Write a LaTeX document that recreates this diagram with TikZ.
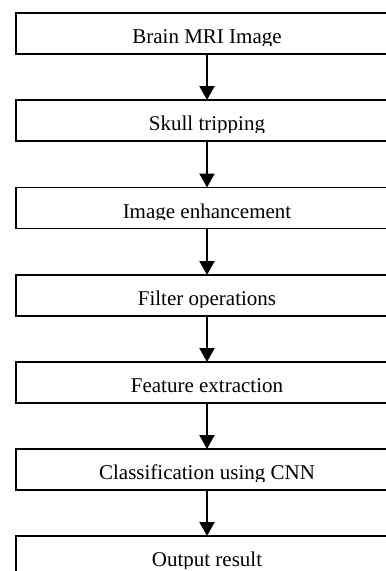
\documentclass[tikz,border=0pt]{standalone}
\usepackage{fontspec}
\setmainfont{Liberation Serif}
\usetikzlibrary{arrows.meta}

\begin{document}
\begin{tikzpicture}[x=1pt,y=-1pt,
  stagebox/.style={draw=black, line width=1.3pt, minimum width=382pt,
    minimum height=41pt, inner sep=0pt, outer sep=0pt},
  stagetext/.style={anchor=base, inner sep=0pt,
    font=\fontsize{21}{25}\selectfont},
  flow/.style={line width=2.2pt, -{Triangle[width=15pt,length=14pt]}}]

  % page frame; the boxes run past the right and bottom edges
  \clip (0,0) rectangle (386,571);
  \fill[white] (0,0) rectangle (386,571);

  % stage boxes (top edges about 87pt apart)
  \foreach \i/\top in {1/13,2/100,3/187.5,4/275,5/362,6/449,7/536}{
    \node[stagebox] (b\i) at (207,\top+20.5) {};
  }

  % labels, cut just below the baseline
  \foreach \i/\top/\txt in {1/13/Brain MRI Image,
                            2/100/Skull tripping,
                            3/187.5/Image enhancement,
                            4/275/Filter operations,
                            5/362/Feature extraction,
                            6/449/Classification using CNN,
                            7/536/Output result}{
    \begin{scope}
      \clip (17,\top) rectangle (397,\top+32);
      \node[stagetext] (t\i) at (207,\top+30.5) {\txt};
    \end{scope}
  }

  % connectors
  \foreach \i [evaluate=\i as \j using int(\i+1)] in {1,...,6}{
    \draw[flow] (b\i.south) -- (b\j.north);
  }
\end{tikzpicture}
\end{document}
